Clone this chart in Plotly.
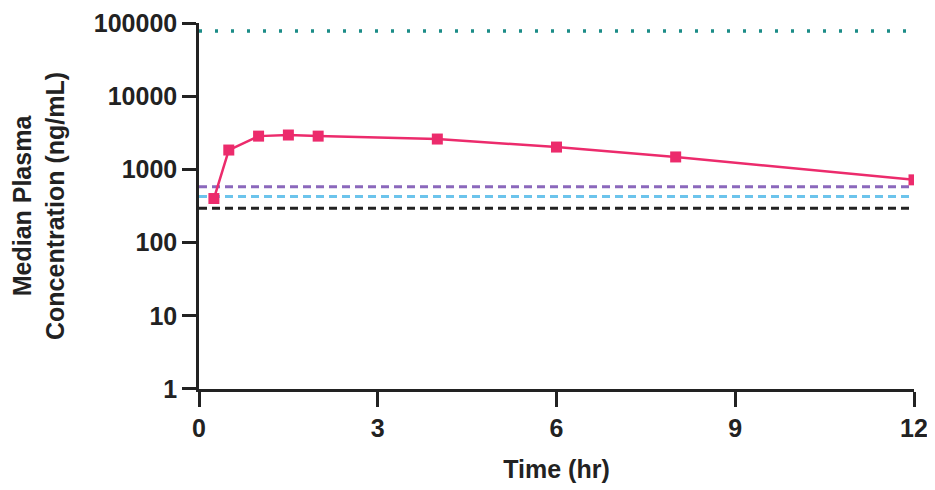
import plotly.graph_objects as go

time_hr = [0.25, 0.5, 1, 1.5, 2, 4, 6, 8, 12]
median_conc = [400, 1840, 2850, 2950, 2850, 2600, 2020, 1480, 720]

ref_x = [0, 12]
teal_level = 78000
purple_level = 580
blue_level = 425
black_level = 295

y_tickvals = [1, 10, 100, 1000, 10000, 100000]
y_ticktext = ["1", "10", "100", "1000", "10000", "100000"]
x_tickvals = [0, 3, 6, 9, 12]

fig = go.Figure()

def hline(level, color, dash, width):
    fig.add_trace(go.Scatter(x=ref_x, y=[level, level], mode="lines",
                             line=dict(color=color, dash=dash, width=width),
                             showlegend=False, hoverinfo="skip"))

hline(teal_level, "#1B8C87", "3px,13px", 3.5)
hline(purple_level, "#8B68BC", "8px,5px", 3)
hline(blue_level, "#6CC4EC", "8px,5px", 3)
hline(black_level, "#222222", "8px,5px", 3)

fig.add_trace(go.Scatter(x=time_hr, y=median_conc, mode="lines+markers",
                         line=dict(color="#EC2B6C", width=2.5),
                         marker=dict(symbol="square", size=11, color="#EC2B6C"),
                         showlegend=False))

font_family = "Liberation Sans, Arial, sans-serif"
fig.update_layout(
    width=927, height=482,
    margin=dict(l=191, r=21, t=15, b=101),
    plot_bgcolor="white", paper_bgcolor="white",
    font=dict(family=font_family, color="#222222"),
    xaxis=dict(range=[0, 12], tickvals=x_tickvals, showgrid=False, zeroline=False,
               showline=True, linecolor="#222222", linewidth=2.5,
               ticks="outside", ticklen=15, tickwidth=2.5, tickcolor="#222222",
               ticklabeloverflow="allow", automargin=False,
               tickfont=dict(size=25, family=font_family, weight="bold"),
               title=dict(text="<b>Time (hr)</b>", font=dict(size=25), standoff=20)),
    yaxis=dict(type="log", range=[-0.0005, 5.0005], tickvals=y_tickvals, ticktext=y_ticktext,
               showgrid=False, zeroline=False,
               showline=True, linecolor="#222222", linewidth=2.5,
               ticks="outside", ticklen=14, tickwidth=2.5, tickcolor="#222222",
               ticklabeloverflow="allow", automargin=False,
               tickfont=dict(size=25, family=font_family, weight="bold"),
               title=dict(text="<b>Median Plasma<br>Concentration (ng/mL)</b>",
                          font=dict(size=25), standoff=26)),
)

fig.write_html("out.html")
